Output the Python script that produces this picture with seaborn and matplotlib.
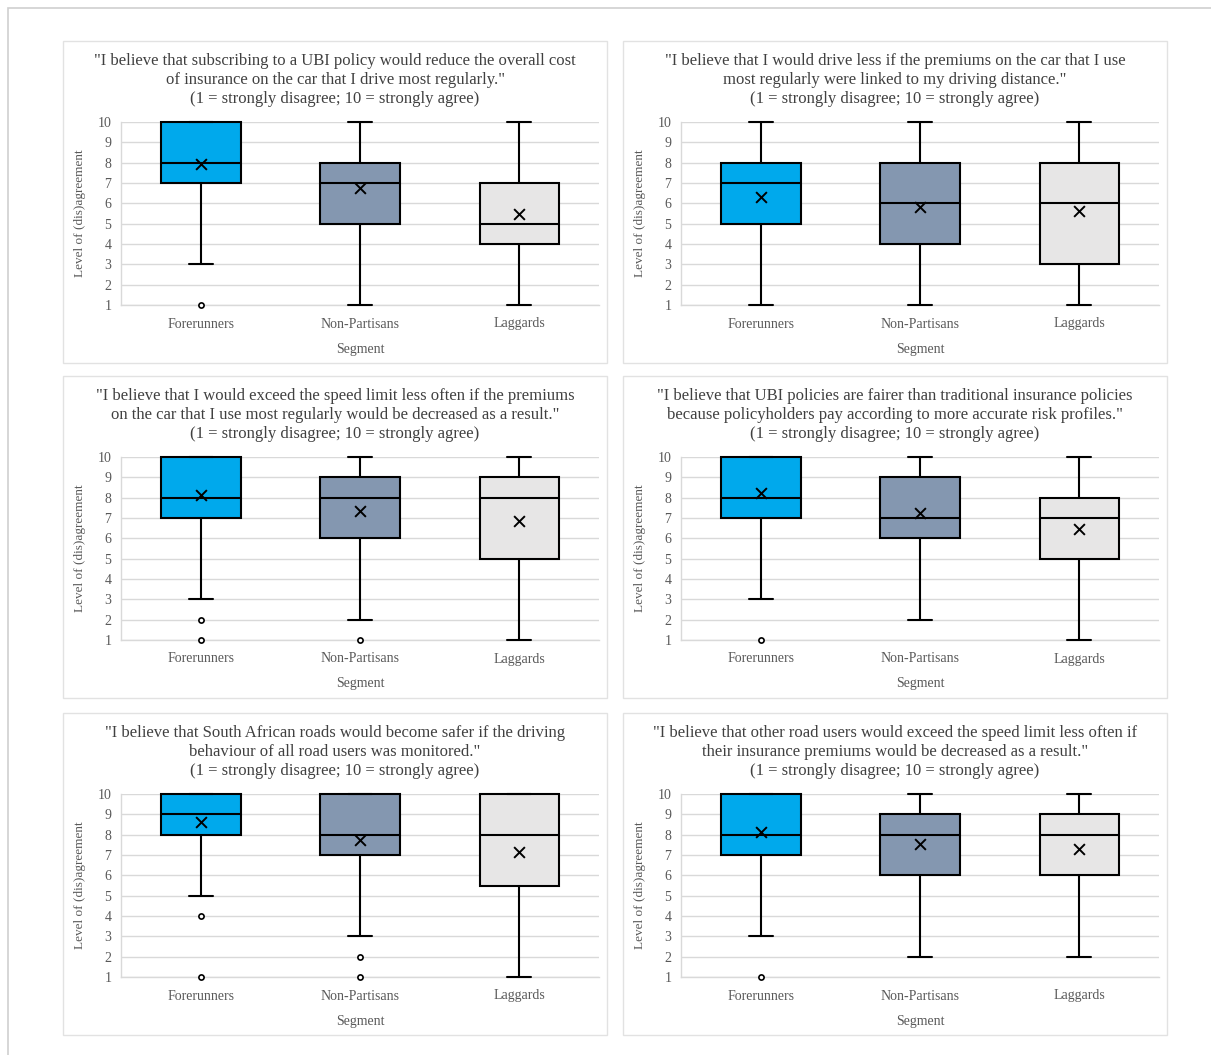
import matplotlib
matplotlib.use("Agg")
import matplotlib.pyplot as plt
from matplotlib.patches import Rectangle
import seaborn as sns
import pandas as pd

# ---- data -------------------------------------------------------------
segments = ["Forerunners", "Non-Partisans", "Laggards"]
segment_colors = ["#00A9EC", "#8497B0", "#E7E6E6"]

titles = [
    '"I believe that subscribing to a UBI policy would reduce the overall cost\n'
    'of insurance on the car that I drive most regularly."\n'
    '(1 = strongly disagree; 10 = strongly agree)',
    '"I believe that I would drive less if the premiums on the car that I use\n'
    'most regularly were linked to my driving distance."\n'
    '(1 = strongly disagree; 10 = strongly agree)',
    '"I believe that I would exceed the speed limit less often if the premiums\n'
    'on the car that I use most regularly would be decreased as a result."\n'
    '(1 = strongly disagree; 10 = strongly agree)',
    '"I believe that UBI policies are fairer than traditional insurance policies\n'
    'because policyholders pay according to more accurate risk profiles."\n'
    '(1 = strongly disagree; 10 = strongly agree)',
    '"I believe that South African roads would become safer if the driving\n'
    'behaviour of all road users was monitored."\n'
    '(1 = strongly disagree; 10 = strongly agree)',
    '"I believe that other road users would exceed the speed limit less often if\n'
    'their insurance premiums would be decreased as a result."\n'
    '(1 = strongly disagree; 10 = strongly agree)',
]

# per panel, per segment (Forerunners, Non-Partisans, Laggards)
whisker_low = [[3, 1, 1], [1, 1, 1], [3, 2, 1], [3, 2, 1], [5, 3, 1], [3, 2, 2]]
quartile_1 = [[7, 5, 4], [5, 4, 3], [7, 6, 5], [7, 6, 5], [8, 7, 5.5], [7, 6, 6]]
medians = [[8, 7, 5], [7, 6, 6], [8, 8, 8], [8, 7, 7], [9, 8, 8], [8, 8, 8]]
quartile_3 = [[10, 8, 7], [8, 8, 8], [10, 9, 9], [10, 9, 8], [10, 10, 10], [10, 9, 9]]
whisker_high = [[10, 10, 10], [10, 10, 10], [10, 10, 10], [10, 10, 10], [10, 10, 10], [10, 10, 10]]
means = [[7.95, 6.75, 5.5], [6.3, 5.8, 5.6], [8.15, 7.35, 6.85],
         [8.25, 7.25, 6.45], [8.6, 7.75, 7.15], [8.15, 7.55, 7.3]]
outliers = [
    [[1], [], []],
    [[], [], []],
    [[2, 1], [1], []],
    [[1], [], []],
    [[4, 1], [2, 1], []],
    [[1], [], []],
]

y_ticks = list(range(1, 11))
y_label = "Level of (dis)agreement"
x_label = "Segment"

# ---- style ------------------------------------------------------------
sns.set_style("white")
plt.rcParams["font.family"] = ["Liberation Serif", "DejaVu Serif"]

W, H = 1211, 1055
fig = plt.figure(figsize=(W / 100, H / 100), dpi=100)

TITLE_C = "#404040"
TEXT_C = "#595959"
GRID_C = "#D9D9D9"


def fx(px):
    return px / W


def fy(py):
    return 1 - py / H


# outer frame
fig.patches.append(Rectangle((fx(8), fy(1060)), fx(1220) - fx(8), fy(8) - fy(1060),
                             transform=fig.transFigure, fill=False,
                             edgecolor="#CFCFCF", linewidth=1.2))

panel_x = [63, 623]
panel_y = [41, 376, 713]
PW, PH = 544, 322

for i in range(6):
    x0 = panel_x[i % 2]
    y0 = panel_y[i // 2]

    # panel frame
    fig.patches.append(Rectangle((fx(x0), fy(y0 + PH)), PW / W, PH / H,
                                 transform=fig.transFigure, fill=False,
                                 edgecolor="#E2E2E2", linewidth=1.0))

    left, right = x0 + 58, x0 + 536
    top, bottom = y0 + 81, y0 + 264
    ax = fig.add_axes([fx(left), fy(bottom), (right - left) / W, (bottom - top) / H])

    stats = []
    for j in range(3):
        stats.append(dict(whislo=whisker_low[i][j], q1=quartile_1[i][j],
                          med=medians[i][j], q3=quartile_3[i][j],
                          whishi=whisker_high[i][j], fliers=[], label=segments[j]))
    bp = ax.bxp(stats, positions=[0, 1, 2], widths=0.5, patch_artist=True,
                showfliers=False, capwidths=0.15,
                boxprops=dict(linewidth=1.5, edgecolor="black"),
                medianprops=dict(color="black", linewidth=1.5),
                whiskerprops=dict(color="black", linewidth=1.5),
                capprops=dict(color="black", linewidth=1.5))
    for patch, col in zip(bp["boxes"], segment_colors):
        patch.set_facecolor(col)
        patch.set_zorder(3)
    for key in ("medians", "whiskers", "caps"):
        for ln in bp[key]:
            ln.set_zorder(3)

    # mean markers
    mean_df = pd.DataFrame({"pos": [0, 1, 2], "mean": means[i]})
    sns.scatterplot(data=mean_df, x="pos", y="mean", marker="x", s=60,
                    color="black", linewidth=1.4, ax=ax, zorder=5, legend=False)

    # outliers
    fl_pos, fl_val = [], []
    for j in range(3):
        for v in outliers[i][j]:
            fl_pos.append(j)
            fl_val.append(v)
    if fl_val:
        fl_df = pd.DataFrame({"pos": fl_pos, "val": fl_val})
        sns.scatterplot(data=fl_df, x="pos", y="val", marker="o", s=14,
                        facecolor="white", edgecolor="black", linewidth=1.2,
                        ax=ax, zorder=5, legend=False)

    ax.set_xlim(-0.5, 2.5)
    ax.set_ylim(1, 10)
    for art in ax.get_children():
        try:
            art.set_clip_on(False)
        except Exception:
            pass

    ax.set_yticks(y_ticks)
    ax.set_xticks([0, 1, 2])
    ax.set_xticklabels(segments)
    ax.tick_params(axis="both", length=0, labelsize=10, colors=TEXT_C)
    ax.tick_params(axis="x", pad=9)
    ax.tick_params(axis="y", pad=7)
    ax.yaxis.grid(True, color=GRID_C, linewidth=1.0, zorder=0)
    ax.set_axisbelow(True)
    for side in ("top", "right"):
        ax.spines[side].set_visible(False)
    for side in ("left", "bottom"):
        ax.spines[side].set_color(GRID_C)
        ax.spines[side].set_linewidth(1.0)
    ax.set_xlabel("")
    ax.set_ylabel("")

    # titles and axis labels
    fig.text(fx(x0 + 272), fy(y0 + 39), titles[i], ha="center", va="center",
             fontsize=12, color=TITLE_C, linespacing=1.22)
    fig.text(fx((left + right) / 2), fy(y0 + 308), x_label, ha="center", va="center",
             fontsize=10, color=TEXT_C)
    fig.text(fx(x0 + 17), fy((top + bottom) / 2), y_label, ha="center", va="center",
             rotation=90, fontsize=9.5, color=TEXT_C)

fig.savefig("out.png", dpi=100, facecolor="white")
